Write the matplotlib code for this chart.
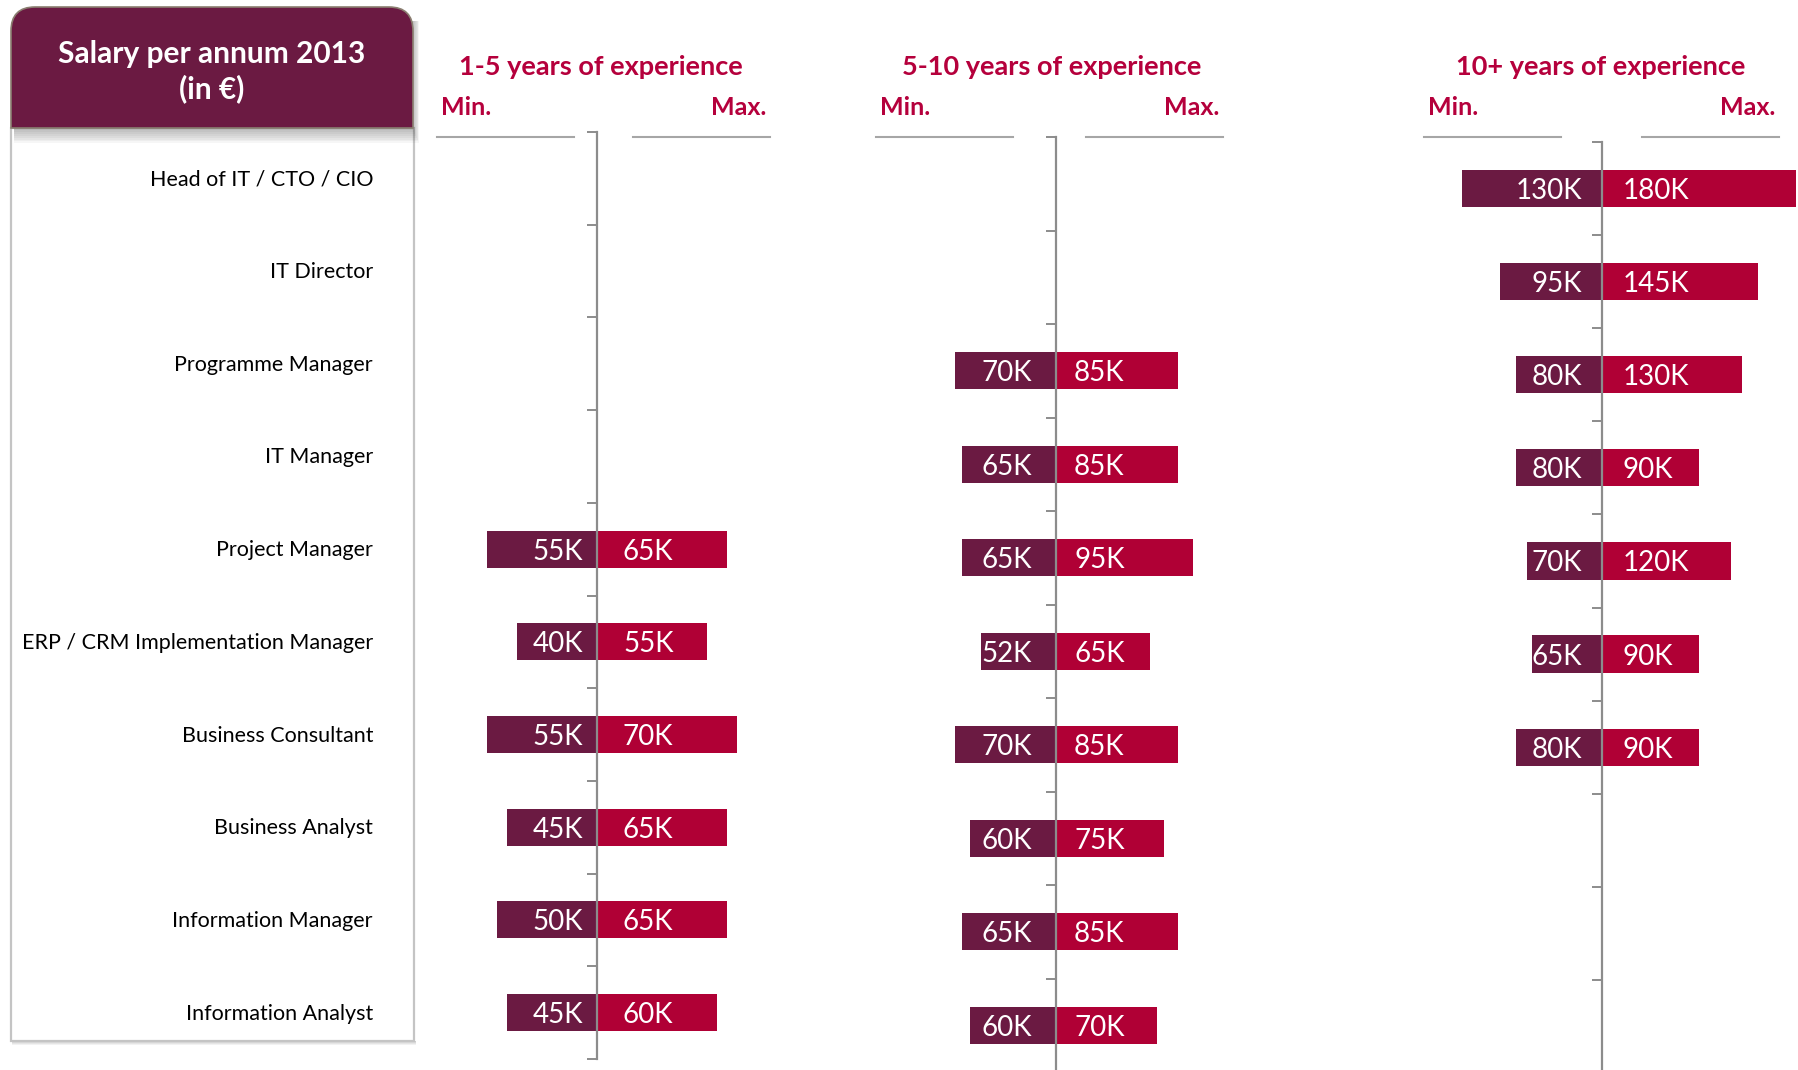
import matplotlib
matplotlib.use("Agg")
import matplotlib.pyplot as plt
from matplotlib.path import Path
from matplotlib.patches import PathPatch, Rectangle
from matplotlib.lines import Line2D
from matplotlib.transforms import Affine2D

plt.rcParams['font.family'] = ['Lato', 'DejaVu Sans']

# --- data ---------------------------------------------------------------
roles = ["Head of IT / CTO / CIO", "IT Director", "Programme Manager", "IT Manager",
         "Project Manager", "ERP / CRM Implementation Manager", "Business Consultant",
         "Business Analyst", "Information Manager", "Information Analyst"]

titles = ["1-5 years of experience", "5-10 years of experience", "10+ years of experience"]

min_1_5 = [None, None, None, None, 55, 40, 55, 45, 50, 45]
max_1_5 = [None, None, None, None, 65, 55, 70, 65, 65, 60]
min_5_10 = [None, None, 70, 65, 65, 52, 70, 60, 65, 60]
max_5_10 = [None, None, 85, 85, 95, 65, 85, 75, 85, 70]
min_10 = [130, 95, 80, 80, 70, 65, 80, None, None, None]
max_10 = [180, 145, 130, 90, 120, 90, 90, None, None, None]

# --- style / layout (pixels, y down) ------------------------------------
W, H = 1798, 1070
PURPLE = "#6B1A42"
RED = "#B00035"
TXT_RED = "#B5003C"
GREY = "#A6A6A6"
SPINE = "#8C8C8C"

# left, right, spine x, px per K, top, row spacing, min/max label gaps, title x
panels = [
    dict(left=437, right=770, mid=597, scale=2.0, top=132, step=92.7, gmin=14, gmax=26,
         tx=601, lo=min_1_5, hi=max_1_5),
    dict(left=876, right=1223, mid=1056, scale=1.44, top=137, step=93.5, gmin=24, gmax=18,
         tx=1052, lo=min_5_10, hi=max_5_10),
    dict(left=1424, right=1779, mid=1602, scale=1.077, top=142, step=93.1, gmin=20, gmax=21,
         tx=1601, lo=min_10, hi=max_10),
]

fig = plt.figure(figsize=(W / 100, H / 100), dpi=100)
px = Affine2D().scale(1 / W, -1 / H).translate(0, 1) + fig.transFigure

# --- left box -----------------------------------------------------------
x0, x1, ytop, ybot, r = 11, 413, 7, 128, 24
body = Rectangle((x0, ybot), 414 - x0, 1041 - ybot, transform=px, facecolor="white",
                 edgecolor="#C4C4C4", lw=1.6, zorder=1)
fig.add_artist(body)
for i in range(8):
    sh = Rectangle((x0 + 3, ytop + 14), x1 - x0 - 3 + i * 0.9, ybot - ytop - 12 + i * 1.9,
                   transform=px, facecolor="black", edgecolor="none", alpha=0.035, zorder=2)
    fig.add_artist(sh)
for i in range(4):
    sh = Rectangle((x0 + 1, 1041), 414 - x0 + 1, 1 + i, transform=px,
                   facecolor="black", edgecolor="none", alpha=0.05, zorder=0.5)
    fig.add_artist(sh)

verts = [(x0, ybot), (x0, ytop + r), (x0, ytop), (x0 + r, ytop), (x1 - r, ytop),
         (x1, ytop), (x1, ytop + r), (x1, ybot), (x0, ybot)]
codes = [Path.MOVETO, Path.LINETO, Path.CURVE3, Path.CURVE3, Path.LINETO,
         Path.CURVE3, Path.CURVE3, Path.LINETO, Path.CLOSEPOLY]
head = PathPatch(Path(verts, codes), transform=px, facecolor=PURPLE,
                 edgecolor="#8A7E70", lw=1.2, zorder=3)
fig.add_artist(head)
fig.text(212, 63, "Salary per annum 2013", transform=px, ha="center", va="baseline",
         color="white", fontsize=21.5, fontweight="bold", zorder=4)
fig.text(212, 98, "(in €)", transform=px, ha="center", va="baseline",
         color="white", fontsize=21.5, fontweight="bold", zorder=4)

p0 = panels[0]
for i, role in enumerate(roles):
    yc = p0["top"] + (i + 0.5) * p0["step"]
    fig.text(373, yc + 7, role, transform=px, ha="right", va="baseline",
             color="black", fontsize=15.5, zorder=4)

# --- panels -------------------------------------------------------------
for title, p in zip(titles, panels):
    bottom = p["top"] + 10 * p["step"]
    ax = fig.add_axes([p["left"] / W, 1 - bottom / H, (p["right"] - p["left"]) / W,
                       (bottom - p["top"]) / H])
    ax.set_xlim(-(p["mid"] - p["left"]) / p["scale"], (p["right"] - p["mid"]) / p["scale"])
    ax.set_ylim(10, 0)
    ax.patch.set_alpha(0)

    for i, (lo, hi) in enumerate(zip(p["lo"], p["hi"])):
        if lo is None:
            continue
        y = i + 0.5
        ax.barh(y, -lo, height=0.4, color=PURPLE, clip_on=False, zorder=1)
        ax.barh(y, hi, height=0.4, color=RED, clip_on=False, zorder=1)
        ax.annotate(f"{lo}K", (0, y), xytext=(-p["gmin"] * 0.72, 0), textcoords="offset points",
                    ha="right", va="center_baseline", color="white", fontsize=20)
        ax.annotate(f"{hi}K", (0, y), xytext=(p["gmax"] * 0.72, 0), textcoords="offset points",
                    ha="left", va="center_baseline", color="white", fontsize=20)

    for s in ["top", "right", "bottom"]:
        ax.spines[s].set_visible(False)
    ax.spines["left"].set_position(("data", 0))
    ax.spines["left"].set_color(SPINE)
    ax.spines["left"].set_linewidth(1.6)
    ax.set_xticks([])
    ax.set_yticks(range(11))
    ax.tick_params(axis="y", direction="out", length=7, width=1.4, color=SPINE,
                   labelleft=False)

    fig.text(p["tx"], 75, title, transform=px, ha="center", va="baseline",
             color=TXT_RED, fontsize=19.5, fontweight="bold")
    fig.text(p["left"] + 4, 115, "Min.", transform=px, ha="left", va="baseline",
             color=TXT_RED, fontsize=18, fontweight="bold")
    fig.text(p["right"] - 4, 115, "Max.", transform=px, ha="right", va="baseline",
             color=TXT_RED, fontsize=18, fontweight="bold")
    fig.add_artist(Line2D([p["left"], p["left"] + 137], [137, 137], transform=px,
                          color=GREY, lw=1.5))
    fig.add_artist(Line2D([p["right"] - 137, p["right"]], [137, 137], transform=px,
                          color=GREY, lw=1.5))

fig.savefig("out.png", dpi=100, facecolor="white")
